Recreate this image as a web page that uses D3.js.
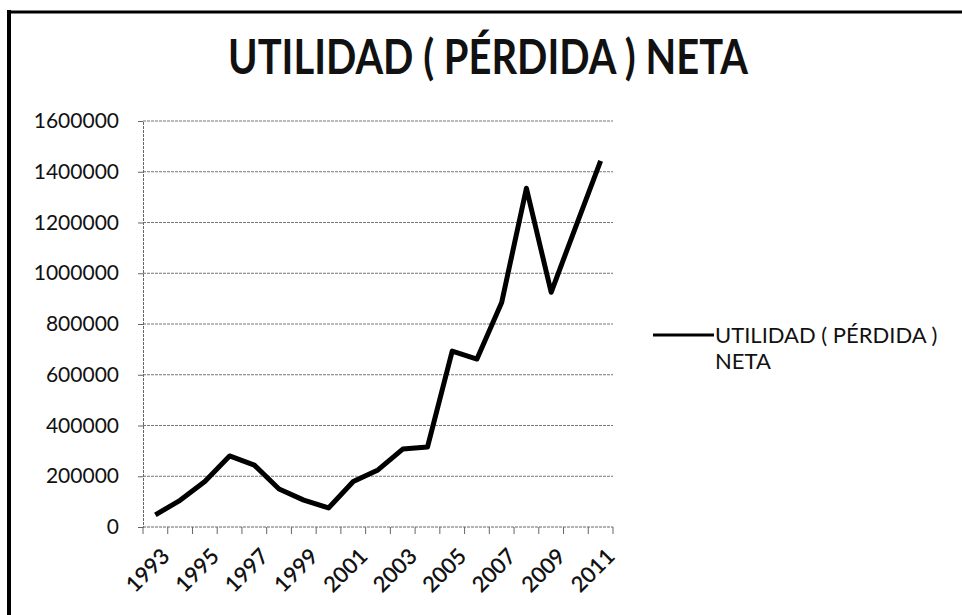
<!DOCTYPE html>
<html>
<head>
<meta charset="utf-8">
<script src="https://cdn.jsdelivr.net/npm/d3@7/dist/d3.min.js"></script>
<style>
  html, body { margin: 0; padding: 0; background: #fff; }
  svg { display: block; }
  text { font-family: Lato, "Open Sans", sans-serif; fill: #111; }
</style>
</head>
<body>
<svg id="chart" width="962" height="615"></svg>
<script>
const chartTitle = "UTILIDAD ( PÉRDIDA ) NETA";
const seriesName = "UTILIDAD ( PÉRDIDA )";
const seriesName2 = "NETA";
const years = ["1993","1994","1995","1996","1997","1998","1999","2000","2001","2002",
               "2003","2004","2005","2006","2007","2008","2009","2010","2011"];
const values = [48000, 105000, 179000, 280000, 244000, 150000, 106000, 75000, 179000, 225000,
                307000, 315000, 693000, 662000, 885000, 1335000, 925000, 1185000, 1443000];
const yTicks = [0, 200000, 400000, 600000, 800000, 1000000, 1200000, 1400000, 1600000];
const xTickLabels = ["1993","1995","1997","1999","2001","2003","2005","2007","2009","2011"];

const svg = d3.select("#chart");

// frame (left + top borders)
svg.append("line").attr("x1", 9).attr("x2", 9).attr("y1", 10).attr("y2", 615)
  .attr("stroke", "#000").attr("stroke-width", 4);
svg.append("line").attr("x1", 7).attr("x2", 962).attr("y1", 12).attr("y2", 12)
  .attr("stroke", "#000").attr("stroke-width", 3);

const plot = { left: 143, right: 613, top: 121, bottom: 527 };

const x = d3.scaleBand().domain(years).range([plot.left, plot.right]).padding(0);
const y = d3.scaleLinear().domain([0, 1600000]).range([plot.bottom, plot.top]);

// gridlines
svg.append("g").selectAll("line").data(yTicks.filter(d => d > 0)).join("line")
  .attr("x1", plot.left).attr("x2", plot.right)
  .attr("y1", d => y(d)).attr("y2", d => y(d))
  .attr("stroke", "#777").attr("stroke-width", 1).attr("stroke-dasharray", "3,1");

// y axis
const yAxis = svg.append("g").attr("transform", `translate(${plot.left},0)`)
  .call(d3.axisLeft(y).tickValues(yTicks).tickFormat(d3.format("d")).tickSize(5).tickPadding(19));
yAxis.select(".domain").attr("stroke", "#666").attr("stroke-dasharray", "3,1");
yAxis.selectAll(".tick line").attr("stroke", "#666");
yAxis.selectAll("text").style("font-size", "21px").style("font-family", "Lato, sans-serif").attr("fill", "#111");

// x axis
const boundaries = years.map(d => x(d)).concat([plot.right]);
const xg = svg.append("g").attr("transform", `translate(0,${plot.bottom})`);
xg.append("line").attr("x1", plot.left).attr("x2", plot.right).attr("y1", 0).attr("y2", 0)
  .attr("stroke", "#666").attr("stroke-dasharray", "3,1");
xg.selectAll("line.tk").data(boundaries).join("line").attr("class", "tk")
  .attr("x1", d => d).attr("x2", d => d).attr("y1", 0).attr("y2", 7)
  .attr("stroke", "#666");
xg.selectAll("text").data(xTickLabels).join("text")
  .attr("transform", d => `translate(${x(d) + x.bandwidth() / 2 + 4},${19}) rotate(-45)`)
  .attr("text-anchor", "end").attr("dy", "0.75em")
  .style("font-size", "22px").style("font-weight", "600").text(d => d);

// line
const line = d3.line().x((d, i) => x(years[i]) + x.bandwidth() / 2).y(d => y(d));
svg.append("path").datum(values).attr("d", line)
  .attr("fill", "none").attr("stroke", "#000").attr("stroke-width", 5)
  .attr("stroke-linejoin", "round");

// title
const t = svg.append("text").attr("x", 488).attr("y", 74).attr("text-anchor", "middle")
  .style("font-size", "47px").style("font-weight", "bold").text(chartTitle);
t.attr("textLength", 520).attr("lengthAdjust", "spacingAndGlyphs");

// legend
svg.append("line").attr("x1", 653).attr("x2", 714).attr("y1", 335).attr("y2", 335)
  .attr("stroke", "#000").attr("stroke-width", 3);
svg.append("text").attr("x", 715).attr("y", 343).style("font-size", "22px").text(seriesName);
svg.append("text").attr("x", 715).attr("y", 369).style("font-size", "22px").text(seriesName2);
</script>
</body>
</html>
